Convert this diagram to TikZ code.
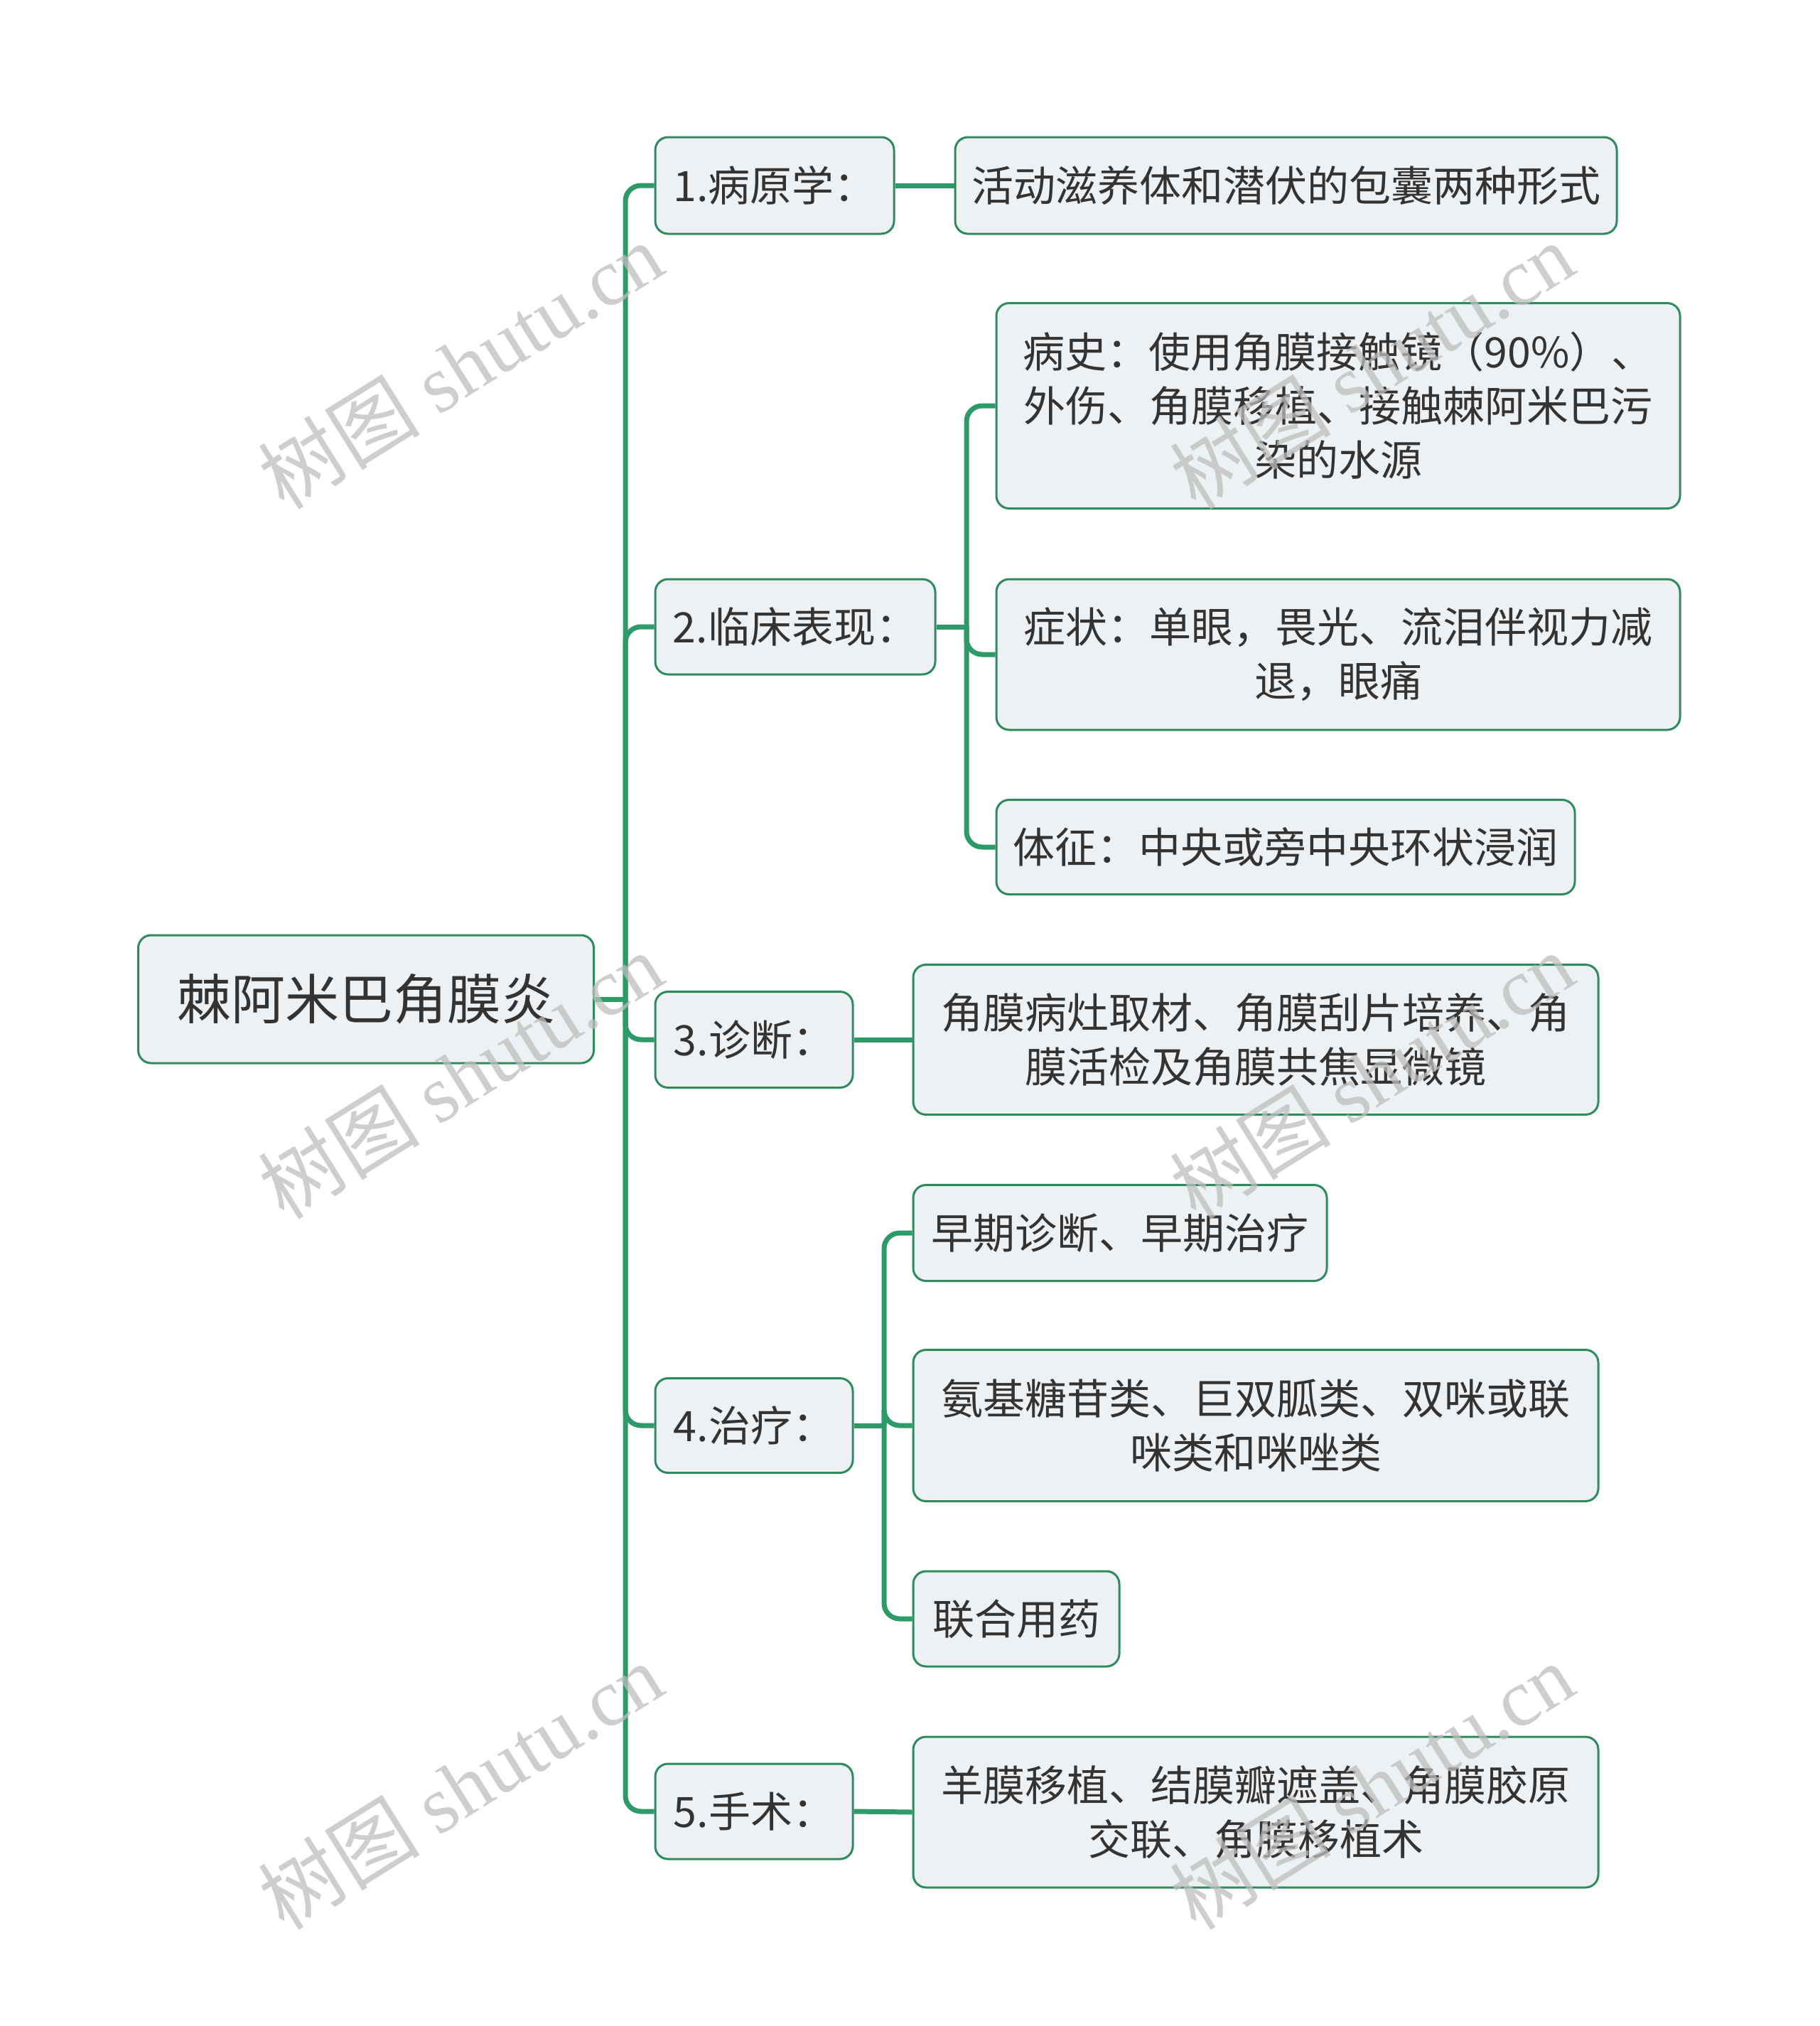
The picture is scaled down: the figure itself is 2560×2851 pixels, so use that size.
\documentclass[tikz,border=0pt]{standalone}
\usepackage{fontspec}
\setmainfont{Noto Sans CJK SC}
\newfontfamily\wmser{Liberation Serif}
\newfontfamily\wmcjk{Noto Sans CJK SC}
\definecolor{linegreen}{HTML}{2E9A68}
\definecolor{boxgreen}{HTML}{2E8B5E}
\definecolor{boxfill}{HTML}{EEF1F4}
\definecolor{txt}{HTML}{333333}
\definecolor{wm}{HTML}{BDBDBD}
\tikzset{
  box/.style={draw=boxgreen, line width=3, fill=boxfill, rounded corners=18,
    inner sep=0, align=center, text=txt, font=\fontsize{59}{76}\selectfont},
  rootbox/.style={box, font=\fontsize{76}{90}\selectfont},
  conn/.style={draw=linegreen, line width=7, rounded corners=22},
  stub/.style={draw=linegreen, line width=7},
  wmark/.style={text=wm, opacity=0.75, rotate=32, inner sep=0}
}
\begin{document}
\begin{tikzpicture}[x=1pt,y=-1pt]
\useasboundingbox (0,0) rectangle (2560,2851);
% nodes
\node[rootbox, minimum width=641, minimum height=180] (root) at (515,1406) {棘阿米巴角膜炎};
\node[box, minimum width=336, minimum height=136] (n1) at (1090,261) {1.病原学：};
\node[box, minimum width=394, minimum height=134] (n2) at (1119,882) {2.临床表现：};
\node[box, minimum width=278, minimum height=135] (n3) at (1061,1463) {3.诊断：};
\node[box, minimum width=278, minimum height=133] (n4) at (1061,2006) {4.治疗：};
\node[box, minimum width=278, minimum height=134] (n5) at (1061,2549) {5.手术：};

\node[box, minimum width=931, minimum height=136] (a1) at (1809.5,261) {活动滋养体和潜伏的包囊两种形式};
\node[box, minimum width=962, minimum height=289] (b1) at (1883,571) {病史：使用角膜接触镜（90\%）、\\外伤、角膜移植、接触棘阿米巴污\\染的水源};
\node[box, minimum width=962, minimum height=212] (b2) at (1883,921) {症状：单眼，畏光、流泪伴视力减\\退，眼痛};
\node[box, minimum width=814, minimum height=133] (b3) at (1809,1192) {体征：中央或旁中央环状浸润};
\node[box, minimum width=964, minimum height=211] (c1) at (1767,1463) {角膜病灶取材、角膜刮片培养、角\\膜活检及角膜共焦显微镜};
\node[box, minimum width=582, minimum height=135] (d1) at (1576,1735) {早期诊断、早期治疗};
\node[box, minimum width=964, minimum height=213] (d2) at (1767,2006) {氨基糖苷类、巨双胍类、双咪或联\\咪类和咪唑类};
\node[box, minimum width=290, minimum height=134] (d3) at (1430,2278) {联合用药};
\node[box, minimum width=964, minimum height=212] (e1) at (1767,2550) {羊膜移植、结膜瓣遮盖、角膜胶原\\交联、角膜移植术};

% connectors
\coordinate (j0) at (880,0 |- root.east);
\coordinate (j2) at (1360,0 |- n2.east);
\coordinate (j4) at (1244,0 |- n4.east);
\draw[stub] (root.east) -- (j0);
\draw[stub] (n2.east) -- (j2);
\draw[stub] (n4.east) -- (j4);
\foreach \c in {n1,n2,n3,n4,n5}
  \draw[conn] (j0) -- (j0 |- \c.west) -- (\c.west);
\foreach \c in {b1,b2,b3}
  \draw[conn] (j2) -- (j2 |- \c.west) -- (\c.west);
\foreach \c in {d1,d2,d3}
  \draw[conn] (j4) -- (j4 |- \c.west) -- (\c.west);
\draw[stub] (n1.east) -- (a1.west);
\draw[stub] (n3.east) -- (c1.west);
\draw[stub] (n5.east) -- (e1.west);

% watermarks
\foreach \i/\x/\y in {1/648/514, 2/648/1513, 3/648/2513, 4/1930/514, 5/1930/1513, 6/1930/2513}
  \node[wmark] (wm\i) at (\x,\y) {\fontsize{114}{114}\selectfont\wmcjk 树图 \wmser shutu.cn};
\end{tikzpicture}
\end{document}
